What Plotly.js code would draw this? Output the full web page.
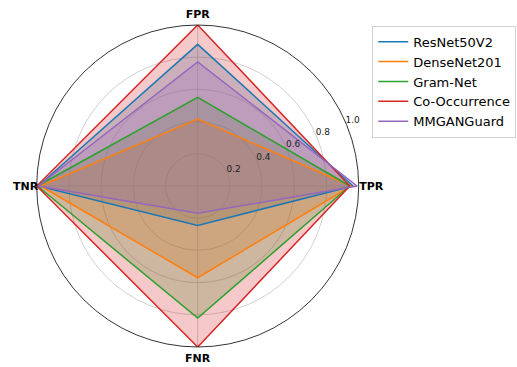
<!DOCTYPE html>
<html>
<head>
<meta charset="utf-8">
<script src="https://cdn.plot.ly/plotly-3.0.1.min.js"></script>
<style>html,body{margin:0;padding:0;background:#fff;}#chart{width:517px;height:367px;}</style>
</head>
<body>
<div id="chart"></div>
<script>
var categories = ["TPR", "FPR", "TNR", "FNR"];
var models = ["ResNet50V2", "DenseNet201", "Gram-Net", "Co-Occurrence", "MMGANGuard"];
var resnet50v2   = [0.965, 0.88, 0.99, 0.245];
var densenet201  = [0.955, 0.415, 0.975, 0.57];
var gramnet      = [0.945, 0.55, 0.995, 0.82];
var cooccurrence = [0.945, 1.0, 1.0, 1.0];
var mmganguard   = [0.99, 0.77, 0.99, 0.17];
var radialTicks = [0.2, 0.4, 0.6, 0.8, 1.0];
var radialTickText = ["0.2", "0.4", "0.6", "0.8", "1.0"];

var seriesValues = [resnet50v2, densenet201, gramnet, cooccurrence, mmganguard];
var colors = ["#1f77b4", "#ff7f0e", "#2ca02c", "#d62728", "#9467bd"];
var fills = ["rgba(31,119,180,0.25)", "rgba(255,127,14,0.25)", "rgba(44,160,44,0.25)", "rgba(214,39,40,0.25)", "rgba(148,103,189,0.25)"];

var theta = categories.concat([categories[0]]);
var fillTraces = [], lineTraces = [];
seriesValues.forEach(function (vals, i) {
  var r = vals.concat([vals[0]]);
  fillTraces.push({
    type: "scatterpolar", r: r, theta: theta, mode: "none",
    fill: "toself", fillcolor: fills[i], showlegend: false, hoverinfo: "skip"
  });
  lineTraces.push({
    type: "scatterpolar", r: r, theta: theta, mode: "lines",
    name: models[i], line: {color: colors[i], width: 1.5},
    showlegend: true, hoverinfo: "skip"
  });
});
var traces = fillTraces.concat(lineTraces);

var layout = {
  width: 517, height: 367,
  margin: {l: 0, r: 0, t: 0, b: 0},
  paper_bgcolor: "#ffffff",
  font: {family: "DejaVu Sans", color: "#000000"},
  polar: {
    domain: {x: [0.0710, 0.6938], y: [0.0545, 0.9319]},
    bgcolor: "#ffffff",
    angularaxis: {
      type: "category", categoryorder: "array", categoryarray: categories,
      rotation: 0, direction: "counterclockwise",
      tickfont: {family: "DejaVu Sans", size: 11, color: "#000000", weight: "bold"},
      ticks: "", showline: true, linecolor: "#000000", linewidth: 0.8,
      gridcolor: "#c4c4c4", gridwidth: 0.8
    },
    radialaxis: {
      range: [0, 1], angle: 22.5, side: "counterclockwise", tickangle: 22.5,
      tickvals: radialTicks, ticktext: radialTickText,
      tickfont: {family: "DejaVu Sans", size: 9, color: "#222222"},
      ticks: "", showline: false, gridcolor: "#c4c4c4", gridwidth: 0.8
    }
  },
  legend: {
    x: 0.720, y: 0.93, xanchor: "left", yanchor: "top",
    bgcolor: "#ffffff", bordercolor: "#d0d0d0", borderwidth: 1,
    font: {family: "DejaVu Sans", size: 13, color: "#000000"}
  },
  showlegend: true
};

var angularNudge = {TPR: [-2, 0], FPR: [0, -2], TNR: [4, 0], FNR: [0, 1]};

Plotly.newPlot("chart", traces, layout, {displayModeBar: false, staticPlot: true}).then(function (gd) {
  gd.querySelectorAll("g.polar text").forEach(function (t) {
    var s = t.textContent;
    if (radialTickText.indexOf(s) >= 0) t.setAttribute("dx", "16");
    if (angularNudge[s]) {
      t.setAttribute("dx", String(angularNudge[s][0]));
      t.setAttribute("dy", String(angularNudge[s][1]));
    }
  });
});
</script>
</body>
</html>
